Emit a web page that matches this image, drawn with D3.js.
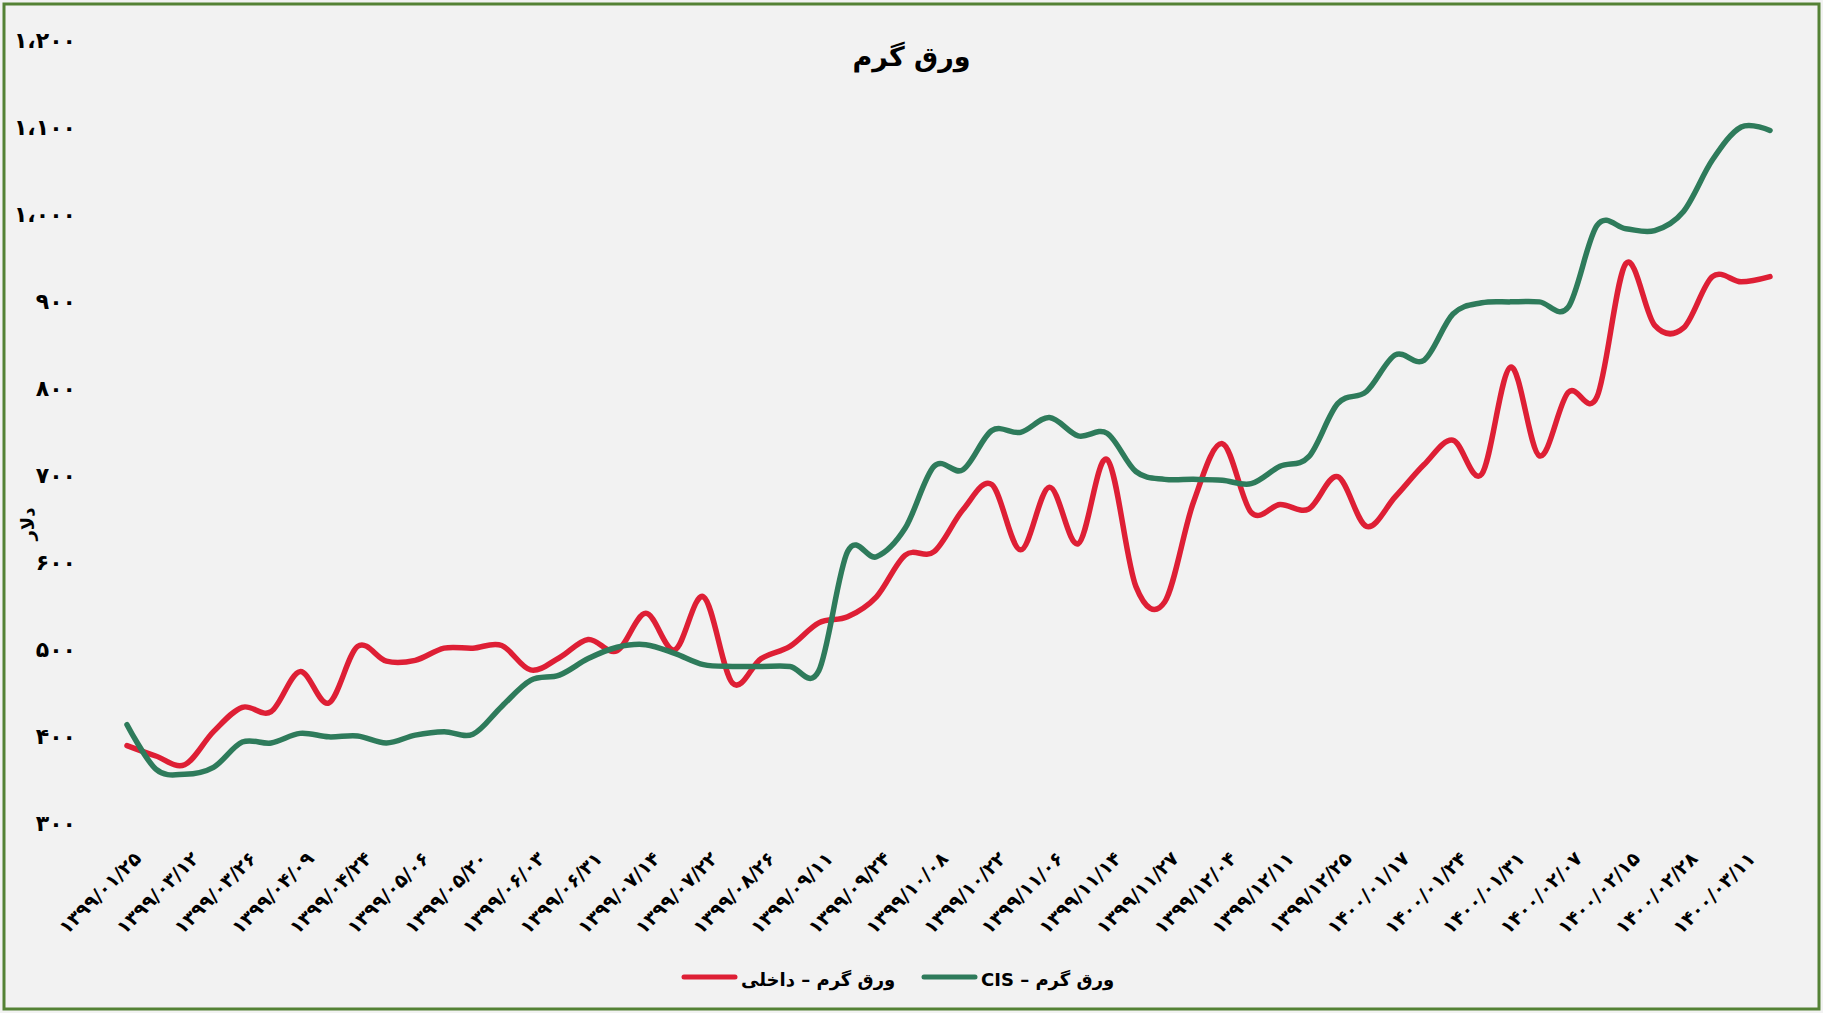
<!DOCTYPE html>
<html>
<head>
<meta charset="utf-8">
<script src="https://cdn.jsdelivr.net/npm/d3@7/dist/d3.min.js"></script>
<style>
  body { margin: 0; background: #f2f2f2; }
  svg text { font-family: "DejaVu Sans", sans-serif; }
</style>
</head>
<body>
<script>
// tick labels on the category axis (every second week is labelled)
var tickLabels = [
  "۱۳۹۹/۰۱/۲۵", "۱۳۹۹/۰۳/۱۲", "۱۳۹۹/۰۳/۲۶", "۱۳۹۹/۰۴/۰۹", "۱۳۹۹/۰۴/۲۴",
  "۱۳۹۹/۰۵/۰۶", "۱۳۹۹/۰۵/۲۰", "۱۳۹۹/۰۶/۰۳", "۱۳۹۹/۰۶/۳۱", "۱۳۹۹/۰۷/۱۴",
  "۱۳۹۹/۰۷/۲۲", "۱۳۹۹/۰۸/۲۶", "۱۳۹۹/۰۹/۱۱", "۱۳۹۹/۰۹/۲۴", "۱۳۹۹/۱۰/۰۸",
  "۱۳۹۹/۱۰/۲۲", "۱۳۹۹/۱۱/۰۶", "۱۳۹۹/۱۱/۱۴", "۱۳۹۹/۱۱/۲۷", "۱۳۹۹/۱۲/۰۴",
  "۱۳۹۹/۱۲/۱۱", "۱۳۹۹/۱۲/۲۵", "۱۴۰۰/۰۱/۱۷", "۱۴۰۰/۰۱/۲۴", "۱۴۰۰/۰۱/۳۱",
  "۱۴۰۰/۰۲/۰۷", "۱۴۰۰/۰۲/۱۵", "۱۴۰۰/۰۲/۲۸", "۱۴۰۰/۰۳/۱۱"
];

// ورق گرم - داخلی (USD)
var domestic = [
  389, 377, 367, 405, 433, 428, 474, 438, 503, 486,
  487, 501, 501, 504, 476, 490, 511, 498, 541, 499,
  560, 461, 489, 503, 530, 537, 560, 608, 612, 660,
  689, 614, 686, 621, 718, 572, 554, 669, 736, 657,
  666, 661, 698, 641, 675, 712, 740, 701, 824, 722,
  795, 790, 943, 872, 869, 928, 922, 928
];

// ورق گرم - CIS (USD)
var cis = [
  413, 362, 356, 364, 393, 392, 403, 399, 400, 392,
  401, 405, 402, 434, 464, 470, 489, 502, 505, 495,
  482, 480, 480, 480, 475, 612, 606, 639, 710, 706,
  751, 749, 766, 745, 748, 704, 695, 695, 694, 690,
  710, 721, 782, 796, 838, 832, 885, 898, 899, 899,
  893, 987, 983, 981, 1003, 1062, 1100, 1096
];

var yTicks = [300, 400, 500, 600, 700, 800, 900, 1000, 1100, 1200];

var seriesNames = ["ورق گرم – داخلی", "ورق گرم – CIS"];
var seriesColors = ["#de1f35", "#2e7b5b"];

const width = 1823;
const height = 1013;

function faDigits(s) {
  return String(s).replace(/[0-9]/g, function(c) {
    return "۰۱۲۳۴۵۶۷۸۹"[+c];
  });
}

const svg = d3.select("body")
  .append("svg")
  .attr("width", width)
  .attr("height", height);

// chart area with green frame
svg.append("rect")
  .attr("x", 4)
  .attr("y", 4)
  .attr("width", width - 8)
  .attr("height", height - 8)
  .attr("fill", "#f2f2f2")
  .attr("stroke", "#548235")
  .attr("stroke-width", 3);

var x = d3.scalePoint()
  .domain(d3.range(domestic.length))
  .range([127, 1770]);

var y = d3.scaleLinear()
  .domain([300, 1200])
  .range([823, 40]);

// title
svg.append("text")
  .attr("x", width / 2)
  .attr("y", 56)
  .attr("text-anchor", "middle")
  .attr("dominant-baseline", "central")
  .style("font-size", "27px")
  .style("font-weight", "bold")
  .text("ورق گرم");

// y axis
var yAxis = svg.append("g")
  .attr("transform", "translate(80,0)")
  .call(d3.axisLeft(y)
    .tickValues(yTicks)
    .tickSize(0)
    .tickPadding(4)
    .tickFormat(function(d) {
      return faDigits(d3.format(",")(d)).replace(",", "،");
    }));
yAxis.select(".domain").remove();
yAxis.selectAll("text")
  .style("font-family", "DejaVu Sans")
  .style("font-size", "22px")
  .style("font-weight", "bold")
  .attr("fill", "#000");

// y axis title
svg.append("text")
  .attr("transform", "translate(27,524) rotate(-90)")
  .attr("text-anchor", "middle")
  .attr("dominant-baseline", "central")
  .style("font-size", "18px")
  .style("font-weight", "bold")
  .text("دلار");

// x axis
var xAxis = svg.append("g")
  .attr("transform", "translate(0,823)")
  .call(d3.axisBottom(x)
    .tickValues(x.domain().filter(function(d) { return d % 2 == 0; }))
    .tickSize(0)
    .tickFormat(function(d) { return tickLabels[d / 2]; }));
xAxis.select(".domain").remove();
xAxis.selectAll("text")
  .attr("direction", "ltr")
  .attr("text-anchor", "end")
  .attr("dy", "0.35em")
  .attr("transform", "translate(8,30) rotate(-45)")
  .style("font-family", "DejaVu Sans")
  .style("font-size", "19px")
  .style("font-weight", "bold")
  .attr("fill", "#000");

// lines
var line = d3.line()
  .x(function(d, i) { return x(i); })
  .y(function(d) { return y(d); })
  .curve(d3.curveCatmullRom.alpha(0));

svg.selectAll(".series")
  .data([domestic, cis])
  .enter()
  .append("path")
  .attr("class", "series")
  .attr("d", line)
  .attr("fill", "none")
  .attr("stroke", function(d, i) { return seriesColors[i]; })
  .attr("stroke-width", 5.5)
  .attr("stroke-linecap", "round")
  .attr("stroke-linejoin", "round");

// legend
var legendX = [684, 924];
var legend = svg.selectAll(".legend")
  .data(seriesNames)
  .enter()
  .append("g")
  .attr("class", "legend")
  .attr("transform", function(d, i) { return "translate(" + legendX[i] + ",977)"; });

legend.append("line")
  .attr("x1", 0)
  .attr("x2", 51)
  .attr("stroke", function(d, i) { return seriesColors[i]; })
  .attr("stroke-width", 5)
  .attr("stroke-linecap", "round");

legend.append("text")
  .attr("x", 57)
  .attr("y", 2)
  .attr("dominant-baseline", "central")
  .attr("direction", "rtl")
  .attr("text-anchor", "end")
  .style("font-size", "18px")
  .style("font-weight", "bold")
  .text(function(d) { return d; });
</script>
</body>
</html>
